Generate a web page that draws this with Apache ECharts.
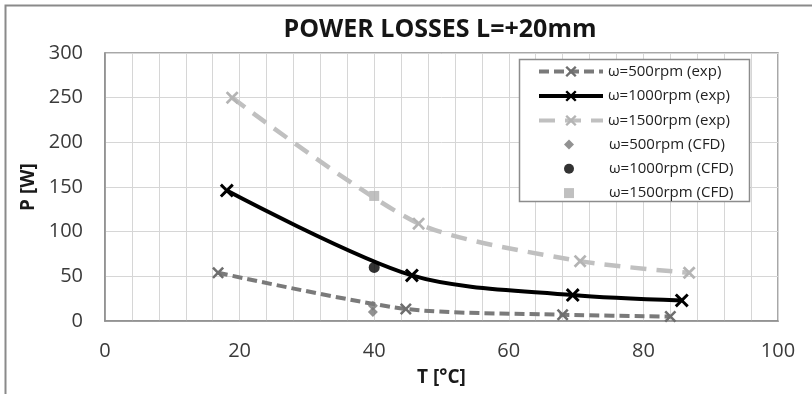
<!DOCTYPE html>
<html>
<head>
<meta charset="utf-8">
<script src="https://cdn.jsdelivr.net/npm/echarts@6/dist/echarts.min.js"></script>
<style>html,body{margin:0;padding:0;background:#fff}#c{width:812px;height:394px}</style>
</head>
<body>
<div id="c"></div>
<script>
// Data: [T (°C), P (W)]
const exp500 = [[16.8, 54], [44.7, 13.5], [68.0, 7], [84.0, 5]];
const exp1000 = [[18.1, 146], [45.6, 51], [69.5, 29], [85.7, 23]];
const exp1500 = [[18.9, 250], [46.6, 109], [70.6, 67], [86.8, 54]];
const cfd500 = [[39.8, 17], [39.8, 10]];
const cfd1000 = [[40.0, 60]];
const cfd1500 = [[40.0, 140]];
const seriesNames = ['ω=500rpm (exp)', 'ω=1000rpm (exp)', 'ω=1500rpm (exp)', 'ω=500rpm (CFD)', 'ω=1000rpm (CFD)', 'ω=1500rpm (CFD)'];
const xTicks = { min: 0, max: 100, step: 20 };
const yTicks = { min: 0, max: 300, step: 50 };

const FONT = '"Open Sans", Lato, sans-serif';
const cross = 'path://M0,1.5L1.5,0L5,3.5L8.5,0L10,1.5L6.5,5L10,8.5L8.5,10L5,6.5L1.5,10L0,8.5L3.5,5Z';

const chart = echarts.init(document.getElementById('c'), null, { renderer: 'canvas' });
chart.setOption({
  animation: false,
  backgroundColor: '#fff',
  title: {
    text: 'POWER LOSSES L=+20mm',
    left: 440, textAlign: 'center', top: 17, padding: 0,
    textStyle: { fontFamily: FONT, fontSize: 25, fontWeight: 'bold', color: '#151515' }
  },
  grid: { left: 105, right: 34, top: 53, bottom: 73, show: true, borderColor: '#8c8c8c', borderWidth: 1.5 },
  xAxis: {
    type: 'value', min: xTicks.min, max: xTicks.max, interval: xTicks.step,
    name: 'T [°C]', nameLocation: 'middle', nameGap: 47,
    nameTextStyle: { fontFamily: FONT, fontSize: 19, fontWeight: 'bold', color: '#1a1a1a' },
    axisLine: { lineStyle: { color: '#8c8c8c', width: 1.5 } },
    axisTick: { show: false },
    minorTick: { show: true, splitNumber: 5, length: 0 },
    minorSplitLine: { show: true, lineStyle: { color: '#d6d6d6', width: 1 } },
    splitLine: { show: true, lineStyle: { color: '#d6d6d6', width: 1 } },
    axisLabel: { fontFamily: FONT, fontSize: 20, color: '#3a3a3a', margin: 20 }
  },
  yAxis: {
    type: 'value', min: yTicks.min, max: yTicks.max, interval: yTicks.step,
    name: 'P [W]', nameLocation: 'middle', nameGap: 67,
    nameTextStyle: { fontFamily: FONT, fontSize: 19, fontWeight: 'bold', color: '#1a1a1a' },
    axisLine: { show: true, lineStyle: { color: '#8c8c8c', width: 1.5 } },
    axisTick: { show: false },
    splitLine: { show: true, lineStyle: { color: '#d6d6d6', width: 1 } },
    axisLabel: { fontFamily: FONT, fontSize: 20, color: '#3a3a3a', margin: 22 }
  },
  legend: [
    {
      data: seriesNames.slice(0, 3), orient: 'vertical', left: 537, top: 64, padding: 0,
      itemWidth: 64, itemHeight: 14, itemGap: 9.5,
      lineStyle: { width: 4 },
      textStyle: { fontFamily: FONT, fontSize: 15, color: '#222', lineHeight: 14 }
    },
    {
      data: seriesNames.slice(3), orient: 'vertical', left: 564, top: 137, padding: 0,
      itemWidth: 10, itemHeight: 10, itemGap: 9.3,
      formatter: function (name) { return '{s| }' + name; },
      textStyle: { fontFamily: FONT, fontSize: 15, color: '#222', lineHeight: 10,
        rich: { s: { width: 30 } } }
    }
  ],
  graphic: [
    { type: 'rect', z: 3, shape: { x: 519.5, y: 59.5, width: 230, height: 142 },
      style: { fill: '#fff', stroke: '#8c8c8c', lineWidth: 1.5 } },
    { type: 'polyline', z: 3, shape: { points: [[5.5, 394], [5.5, 5.5], [812, 5.5]] },
      style: { fill: null, stroke: '#8a8a8a', lineWidth: 2 } }
  ],
  series: [
    {
      name: seriesNames[0], type: 'line', data: exp500, smooth: 0.25,
      symbol: cross, symbolSize: 12,
      lineStyle: { color: '#7a7a7a', width: 4, type: [10, 5] },
      itemStyle: { color: '#6e6e6e' }
    },
    {
      name: seriesNames[1], type: 'line', data: exp1000, smooth: 0.3,
      symbol: cross, symbolSize: 14,
      lineStyle: { color: '#000', width: 4 },
      itemStyle: { color: '#000' }
    },
    {
      name: seriesNames[2], type: 'line', data: exp1500, smooth: 0.25,
      symbol: cross, symbolSize: 13,
      lineStyle: { color: '#c0c0c0', width: 4.5, type: [16, 10] },
      itemStyle: { color: '#b4b4b4' }
    },
    {
      name: seriesNames[3], type: 'scatter', data: cfd500,
      symbol: 'diamond', symbolSize: 10, itemStyle: { color: '#777' }
    },
    {
      name: seriesNames[4], type: 'scatter', data: cfd1000,
      symbol: 'circle', symbolSize: 11, itemStyle: { color: '#000' }
    },
    {
      name: seriesNames[5], type: 'scatter', data: cfd1500,
      symbol: 'rect', symbolSize: 10, itemStyle: { color: '#b0b0b0' }
    }
  ]
});
</script>
</body>
</html>
